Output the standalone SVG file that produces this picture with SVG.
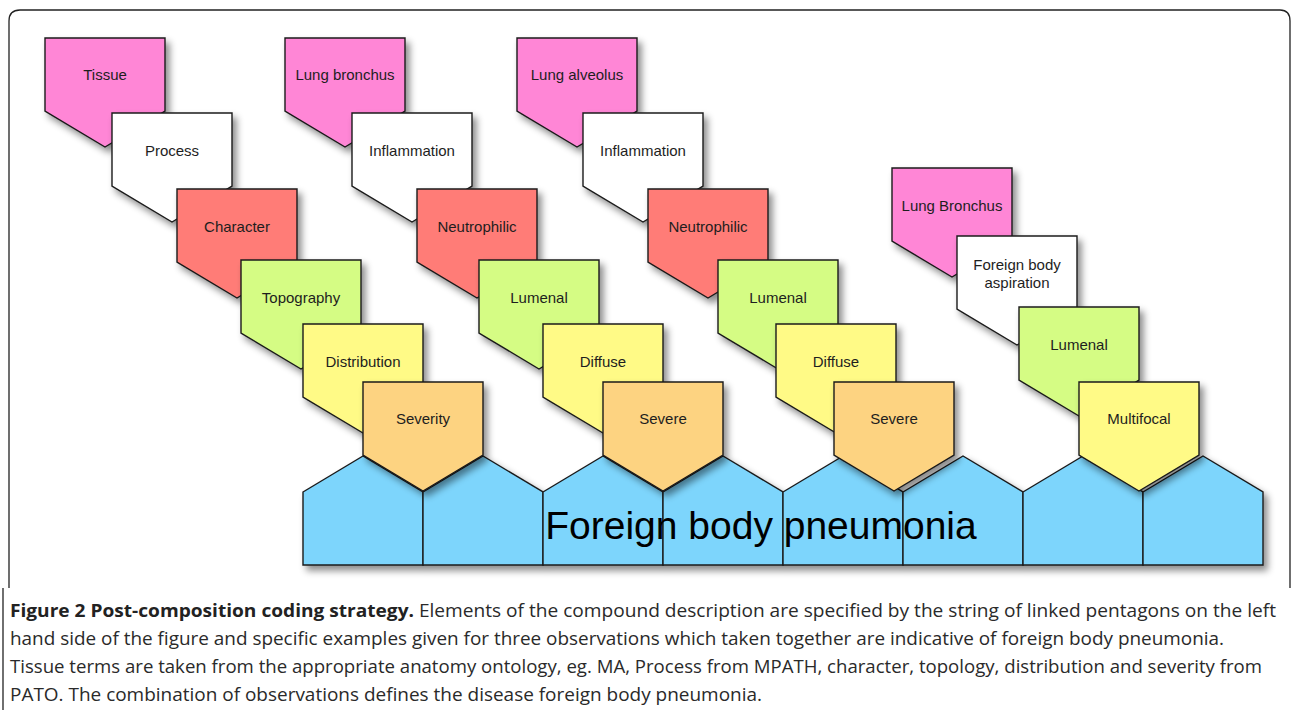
<svg xmlns="http://www.w3.org/2000/svg" xmlns:xlink="http://www.w3.org/1999/xlink" width="1293" height="710" viewBox="0 0 1293 710">
<style>
.s{stroke:#1a1a1a;stroke-width:1.4;stroke-linejoin:miter}
.pink{fill:#FF86D6}.white{fill:#FFFFFF}.red{fill:#FF7C77}.green{fill:#D5FC84}.yellow{fill:#FFFA86}.orange{fill:#FDD381}.blue{fill:#7DD5FC}
.lbl{font-family:"Liberation Sans",Arial,sans-serif;font-size:15px;fill:#1e1e1e;text-anchor:middle;dominant-baseline:central}
.big{font-family:"Liberation Sans",Arial,sans-serif;font-size:39px;fill:#000}
.cap{font-family:"Open Sans","Noto Sans",sans-serif;font-size:18px;fill:#2a2a2a}
.frame{fill:none;stroke:#222;stroke-width:1.3}
</style>
<defs>
<filter id="sh" x="-20%" y="-20%" width="150%" height="150%">
<feDropShadow dx="4" dy="5" stdDeviation="3.5" flood-color="#000" flood-opacity="0.45"/>
</filter>
<path id="pent" d="M0,0 H120 V73 L60,109 L0,73 Z"/>
<path id="house" d="M0,36 L60,0 L120,36 V109 H0 Z"/>
</defs>
<path class="frame" d="M9,588 V21 Q9,10 20,10 H1280 Q1290,10 1290,21 V588"/>
<path class="frame" d="M3,588 V710"/>

<g id="disease" filter="url(#sh)">
<use xlink:href="#house" x="303" y="456" class="s blue"/>
<use xlink:href="#house" x="423" y="456" class="s blue"/>
<use xlink:href="#house" x="543" y="456" class="s blue"/>
<use xlink:href="#house" x="663" y="456" class="s blue"/>
<use xlink:href="#house" x="783" y="456" class="s blue"/>
<use xlink:href="#house" x="903" y="456" class="s blue"/>
<use xlink:href="#house" x="1023" y="456" class="s blue"/>
<use xlink:href="#house" x="1143" y="456" class="s blue"/>
</g>

<g id="col1">
<g id="n-tissue"><use xlink:href="#pent" x="45" y="38" class="s pink" filter="url(#sh)"/><text class="lbl" x="105" y="74">Tissue</text></g>
<g id="n-process"><use xlink:href="#pent" x="112" y="113" class="s white" filter="url(#sh)"/><text class="lbl" x="172" y="150">Process</text></g>
<g id="n-character"><use xlink:href="#pent" x="177" y="189" class="s red" filter="url(#sh)"/><text class="lbl" x="237" y="226">Character</text></g>
<g id="n-topography"><use xlink:href="#pent" x="241" y="260" class="s green" filter="url(#sh)"/><text class="lbl" x="301" y="297">Topography</text></g>
<g id="n-distribution"><use xlink:href="#pent" x="303" y="324" class="s yellow" filter="url(#sh)"/><text class="lbl" x="363" y="361">Distribution</text></g>
<g id="n-severity"><use xlink:href="#pent" x="363" y="382" class="s orange" filter="url(#sh)"/><text class="lbl" x="423" y="418">Severity</text></g>
</g>

<g id="col2">
<g id="n-lungbronchus1"><use xlink:href="#pent" x="285" y="38" class="s pink" filter="url(#sh)"/><text class="lbl" x="345" y="74">Lung bronchus</text></g>
<g id="n-inflammation1"><use xlink:href="#pent" x="352" y="113" class="s white" filter="url(#sh)"/><text class="lbl" x="412" y="150">Inflammation</text></g>
<g id="n-neutrophilic1"><use xlink:href="#pent" x="417" y="189" class="s red" filter="url(#sh)"/><text class="lbl" x="477" y="226">Neutrophilic</text></g>
<g id="n-lumenal1"><use xlink:href="#pent" x="479" y="260" class="s green" filter="url(#sh)"/><text class="lbl" x="539" y="297">Lumenal</text></g>
<g id="n-diffuse1"><use xlink:href="#pent" x="543" y="324" class="s yellow" filter="url(#sh)"/><text class="lbl" x="603" y="361">Diffuse</text></g>
<g id="n-severe1"><use xlink:href="#pent" x="603" y="382" class="s orange" filter="url(#sh)"/><text class="lbl" x="663" y="418">Severe</text></g>
</g>

<g id="col3">
<g id="n-lungalveolus"><use xlink:href="#pent" x="517" y="38" class="s pink" filter="url(#sh)"/><text class="lbl" x="577" y="74">Lung alveolus</text></g>
<g id="n-inflammation2"><use xlink:href="#pent" x="583" y="113" class="s white" filter="url(#sh)"/><text class="lbl" x="643" y="150">Inflammation</text></g>
<g id="n-neutrophilic2"><use xlink:href="#pent" x="648" y="189" class="s red" filter="url(#sh)"/><text class="lbl" x="708" y="226">Neutrophilic</text></g>
<g id="n-lumenal2"><use xlink:href="#pent" x="718" y="260" class="s green" filter="url(#sh)"/><text class="lbl" x="778" y="297">Lumenal</text></g>
<g id="n-diffuse2"><use xlink:href="#pent" x="776" y="324" class="s yellow" filter="url(#sh)"/><text class="lbl" x="836" y="361">Diffuse</text></g>
<g id="n-severe2"><use xlink:href="#pent" x="834" y="382" class="s orange" filter="url(#sh)"/><text class="lbl" x="894" y="418">Severe</text></g>
</g>

<g id="col4">
<g id="n-lungbronchus2"><use xlink:href="#pent" x="892" y="168" class="s pink" filter="url(#sh)"/><text class="lbl" x="952" y="205">Lung Bronchus</text></g>
<g id="n-fba"><use xlink:href="#pent" x="957" y="236" class="s white" filter="url(#sh)"/><text class="lbl" x="1017" y="264">Foreign body</text><text class="lbl" x="1017" y="282">aspiration</text></g>
<g id="n-lumenal3"><use xlink:href="#pent" x="1019" y="307" class="s green" filter="url(#sh)"/><text class="lbl" x="1079" y="344">Lumenal</text></g>
<g id="n-multifocal"><use xlink:href="#pent" x="1079" y="382" class="s yellow" filter="url(#sh)"/><text class="lbl" x="1139" y="418">Multifocal</text></g>
</g>

<g id="connectors"></g>

<text class="big" x="761" y="539" text-anchor="middle">Foreign body pneumonia</text>

<g id="caption">
<text class="cap" x="10" y="617" textLength="1266" lengthAdjust="spacingAndGlyphs"><tspan font-weight="bold" fill="#222">Figure 2 Post-composition coding strategy.</tspan> Elements of the compound description are specified by the string of linked pentagons on the left</text>
<text class="cap" x="10" y="645" textLength="1214" lengthAdjust="spacingAndGlyphs">hand side of the figure and specific examples given for three observations which taken together are indicative of foreign body pneumonia.</text>
<text class="cap" x="10" y="673" textLength="1252" lengthAdjust="spacingAndGlyphs">Tissue terms are taken from the appropriate anatomy ontology, eg. MA, Process from MPATH, character, topology, distribution and severity from</text>
<text class="cap" x="10" y="701" textLength="752" lengthAdjust="spacingAndGlyphs">PATO. The combination of observations defines the disease foreign body pneumonia.</text>
</g>
</svg>
